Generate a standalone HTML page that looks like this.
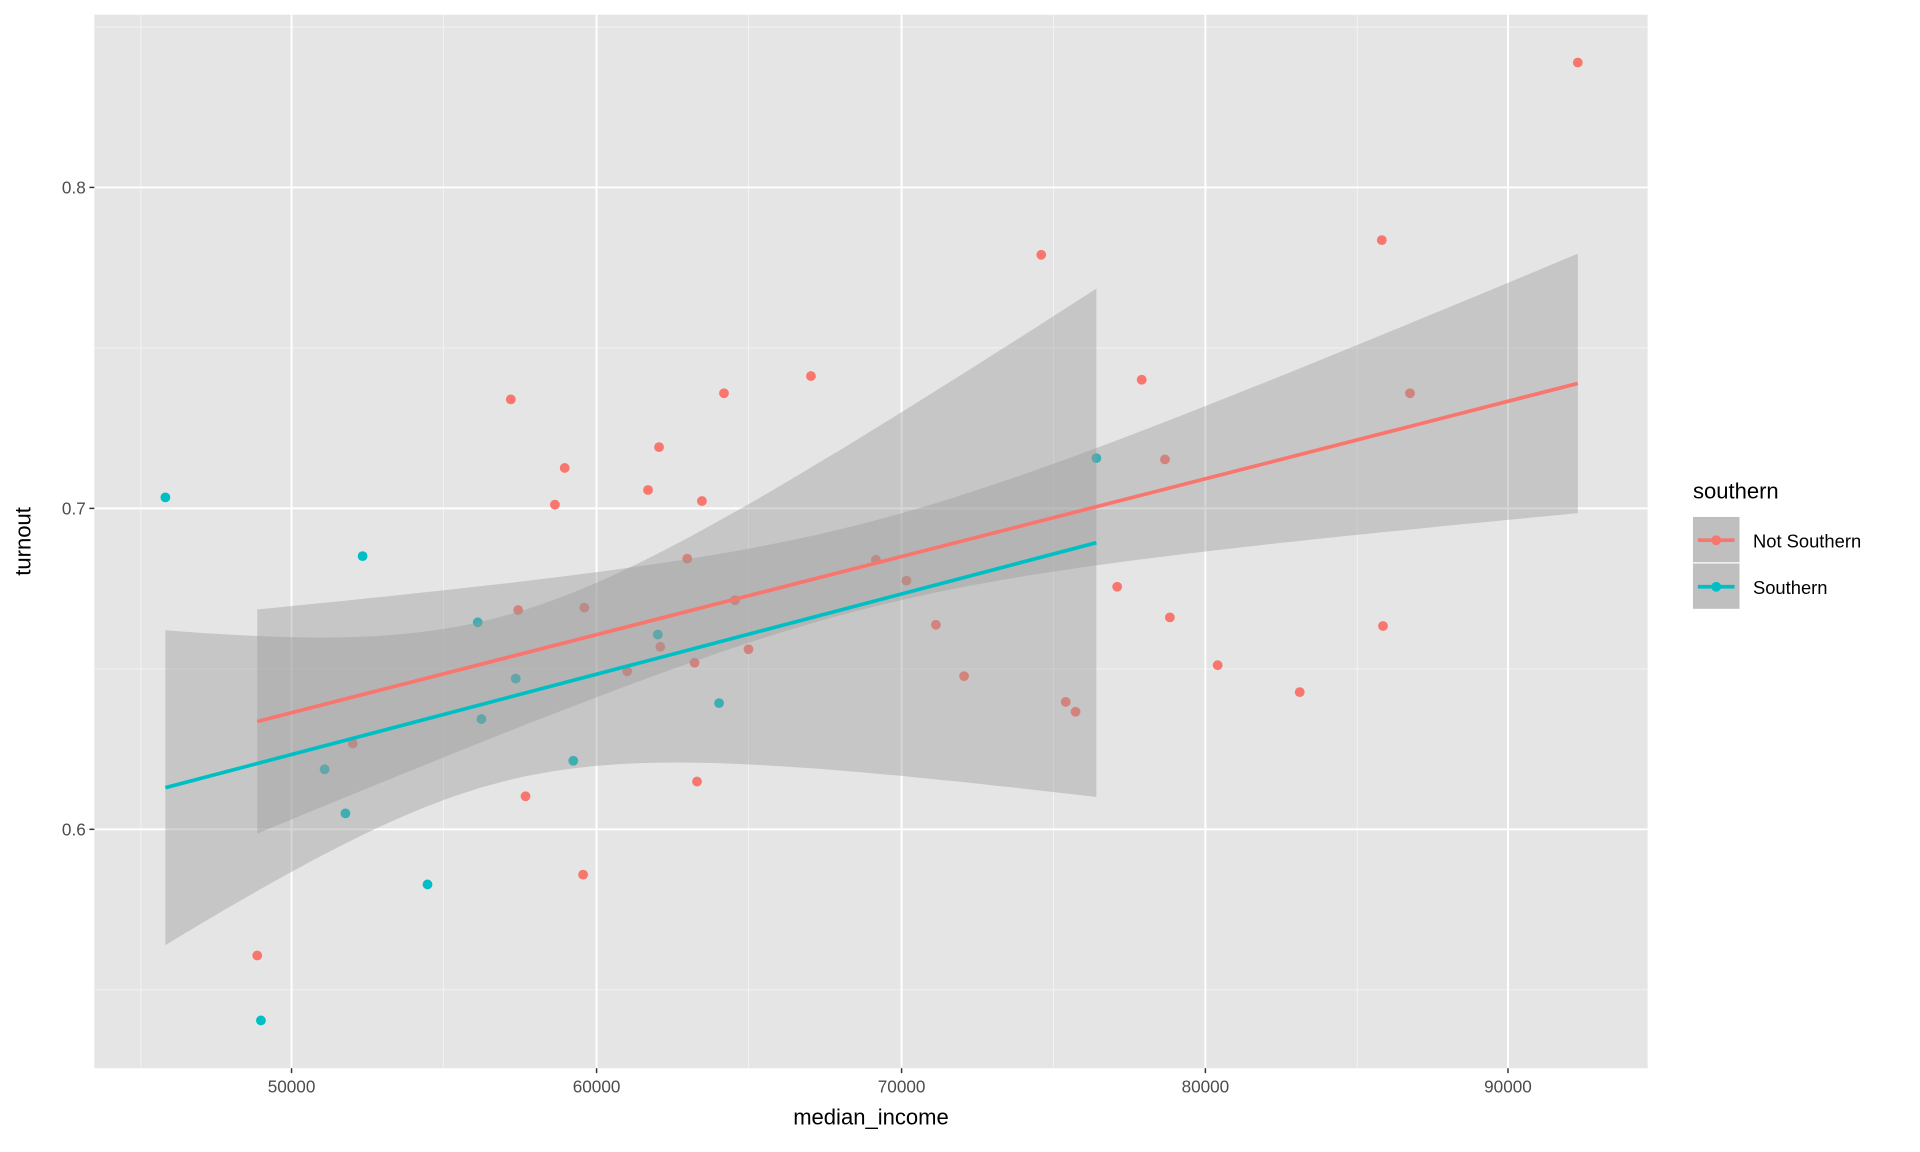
<!DOCTYPE html>
<html><head><meta charset="utf-8"><style>html,body{margin:0;padding:0;background:#fff}svg{display:block}</style></head>
<body>
<svg width="1920" height="1152" viewBox="0 0 1567.35 940.41" xmlns="http://www.w3.org/2000/svg" font-family="Liberation Sans, Arial, sans-serif">
<rect x="77" y="12" width="1268" height="860" fill="#e5e5e5"/>
<g stroke="#f2f2f2" stroke-width="0.8">
<line x1="115" y1="12" x2="115" y2="872"/><line x1="362" y1="12" x2="362" y2="872"/><line x1="611" y1="12" x2="611" y2="872"/><line x1="860" y1="12" x2="860" y2="872"/><line x1="1108" y1="12" x2="1108" y2="872"/>
<line x1="77" y1="22" x2="1345" y2="22"/><line x1="77" y1="284" x2="1345" y2="284"/><line x1="77" y1="546" x2="1345" y2="546"/><line x1="77" y1="808" x2="1345" y2="808"/>
</g>
<g stroke="#fff" stroke-width="1.6">
<line x1="238" y1="12" x2="238" y2="872"/><line x1="487" y1="12" x2="487" y2="872"/><line x1="736" y1="12" x2="736" y2="872"/><line x1="984" y1="12" x2="984" y2="872"/><line x1="1231" y1="12" x2="1231" y2="872"/>
<line x1="77" y1="153" x2="1345" y2="153"/><line x1="77" y1="415" x2="1345" y2="415"/><line x1="77" y1="677" x2="1345" y2="677"/>
</g>
<g fill="#f8766d">
<circle cx="210" cy="780" r="4"/><circle cx="417" cy="326" r="4"/><circle cx="461" cy="382" r="4"/><circle cx="453" cy="412" r="4"/><circle cx="429" cy="650" r="4"/><circle cx="476" cy="714" r="4"/><circle cx="529" cy="400" r="4"/><circle cx="538" cy="365" r="4"/><circle cx="573" cy="409" r="4"/><circle cx="591" cy="321" r="4"/><circle cx="662" cy="307" r="4"/><circle cx="569" cy="638" r="4"/><circle cx="850" cy="208" r="4"/><circle cx="932" cy="310" r="4"/><circle cx="912" cy="479" r="4"/><circle cx="955" cy="504" r="4"/><circle cx="994" cy="543" r="4"/><circle cx="1061" cy="565" r="4"/><circle cx="1128" cy="196" r="4"/><circle cx="1129" cy="511" r="4"/><circle cx="1288" cy="51" r="4"/><circle cx="870" cy="573" r="4"/><circle cx="878" cy="581" r="4"/><circle cx="787" cy="552" r="4"/><circle cx="764" cy="510" r="4"/><circle cx="740" cy="474" r="4"/><circle cx="715" cy="457" r="4"/><circle cx="611" cy="530" r="4"/><circle cx="600" cy="490" r="4"/><circle cx="567" cy="541" r="4"/><circle cx="561" cy="456" r="4"/><circle cx="539" cy="528" r="4"/><circle cx="512" cy="548" r="4"/><circle cx="477" cy="496" r="4"/><circle cx="423" cy="498" r="4"/><circle cx="288" cy="607" r="4"/><circle cx="1151" cy="321" r="4"/><circle cx="951" cy="375" r="4"/>
</g>
<g fill="#00bfc4">
<circle cx="135" cy="406" r="4"/><circle cx="213" cy="833" r="4"/><circle cx="296" cy="454" r="4"/><circle cx="349" cy="722" r="4"/><circle cx="265" cy="628" r="4"/><circle cx="282" cy="664" r="4"/><circle cx="390" cy="508" r="4"/><circle cx="393" cy="587" r="4"/><circle cx="421" cy="554" r="4"/><circle cx="468" cy="621" r="4"/><circle cx="537" cy="518" r="4"/><circle cx="587" cy="574" r="4"/><circle cx="895" cy="374" r="4"/>
</g>
<path id="rib1" d="" fill="#999" fill-opacity="0.4"/>
<path id="rib2" d="" fill="#999" fill-opacity="0.4"/>
<line x1="210" y1="589" x2="1288" y2="313" stroke="#f8766d" stroke-width="3"/>
<line x1="135" y1="643" x2="895" y2="443" stroke="#00bfc4" stroke-width="3"/>
<g stroke="#333" stroke-width="1.2">
<line x1="73" y1="153" x2="77" y2="153"/><line x1="73" y1="415" x2="77" y2="415"/><line x1="73" y1="677" x2="77" y2="677"/>
<line x1="238" y1="872" x2="238" y2="876"/><line x1="487" y1="872" x2="487" y2="876"/><line x1="736" y1="872" x2="736" y2="876"/><line x1="984" y1="872" x2="984" y2="876"/><line x1="1231" y1="872" x2="1231" y2="876"/>
</g>
<g fill="#4d4d4d" font-size="14">
<text x="70" y="158" text-anchor="end">0.8</text><text x="70" y="420" text-anchor="end">0.7</text><text x="70" y="682" text-anchor="end">0.6</text>
<text x="238" y="892" text-anchor="middle">50000</text><text x="487" y="892" text-anchor="middle">60000</text><text x="736" y="892" text-anchor="middle">70000</text><text x="984" y="892" text-anchor="middle">80000</text><text x="1231" y="892" text-anchor="middle">90000</text>
</g>
<text x="711" y="918" text-anchor="middle" font-size="18" fill="#000">median_income</text>
<text transform="translate(25,442) rotate(-90)" text-anchor="middle" font-size="18" fill="#000">turnout</text>
<text x="1382" y="407" font-size="18" fill="#000">southern</text>
<rect x="1382" y="422" width="38" height="37" fill="#bfbfbf"/>
<rect x="1382" y="460" width="38" height="37" fill="#bfbfbf"/>
<line x1="1386" y1="441" x2="1416" y2="441" stroke="#f8766d" stroke-width="3"/><circle cx="1401" cy="441" r="4" fill="#f8766d"/>
<line x1="1386" y1="479" x2="1416" y2="479" stroke="#00bfc4" stroke-width="3"/><circle cx="1401" cy="479" r="4" fill="#00bfc4"/>
<text x="1431" y="447" font-size="15" fill="#000">Not Southern</text>
<text x="1431" y="485" font-size="15" fill="#000">Southern</text>
</svg>
<script>
function rib(id,x1,x2,c0,cx,slope,a,b,x0){
  var up=[],lo=[];
  for(var i=0;i<=80;i++){var x=x1+(x2-x1)*i/80;var c=c0+slope*(x-cx);var w=Math.sqrt(a+b*(x-x0)*(x-x0));
    up.push(x.toFixed(1)+','+(c-w).toFixed(1));lo.unshift(x.toFixed(1)+','+(c+w).toFixed(1));}
  document.getElementById(id).setAttribute('d','M'+up.join(' L')+' L'+lo.join(' L')+' Z');
}
rib('rib1',210,1288,589,210,-0.256,1225,0.0293,704);
rib('rib2',135,895,643,135,-0.263,4556,0.1617,407);
</script>
</body></html>
